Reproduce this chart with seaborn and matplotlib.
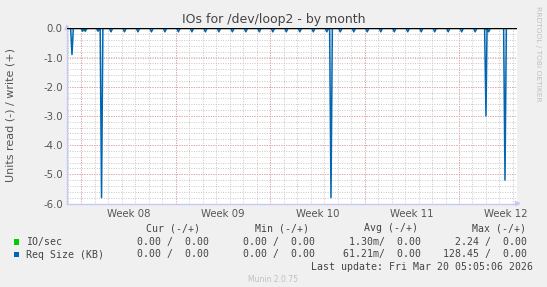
import numpy as np
import pandas as pd
import matplotlib
matplotlib.use("Agg")
import matplotlib.pyplot as plt
from matplotlib.patches import Rectangle
import seaborn as sns

# ---------------- data (days since Monday of Week 08) ----------------
week_labels = ["Week 08", "Week 09", "Week 10", "Week 11", "Week 12"]
week_starts = [0, 7, 14, 21, 28]

# large read spikes in "Req Size (KB)" (negative = read)
req_spike_days = [-0.69, 1.50, 18.51, 30.00, 31.41]
req_spike_vals = [-0.90, -5.80, -5.80, -3.00, -5.20]

# small recurring read dips in "Req Size (KB)"
req_dip_days = [0.10, 0.30, 1.24,
                2.2, 3.2, 4.2, 5.2, 6.2, 7.2, 8.2, 9.2, 10.2, 11.2, 12.2,
                13.2, 14.2, 15.2, 16.2, 17.2, 18.2, 19.2, 20.2, 21.2, 22.2,
                23.2, 24.2, 25.2, 26.2, 27.2, 28.2, 29.2, 30.2]
req_dip_vals = [-0.10, -0.10, -0.10,
                -0.12, -0.12, -0.12, -0.12, -0.12, -0.12, -0.12, -0.12, -0.12,
                -0.12, -0.12, -0.12, -0.12, -0.12, -0.12, -0.12, -0.12, -0.12,
                -0.12, -0.12, -0.12, -0.12, -0.12, -0.12, -0.12, -0.12, -0.12,
                -0.12, -0.12]

# IO/sec read dips
io_dip_days = [0.20, 30.00]
io_dip_vals = [-0.08, -0.05]

x_start, x_end = -1.06, 32.30

legend_header = ["Cur (-/+)", "Min (-/+)", "Avg (-/+)", "Max (-/+)"]
io_stats = ["0.00 /  0.00", "0.00 /  0.00", "1.30m/  0.00", "2.24 /  0.00"]
req_stats = ["0.00 /  0.00", "0.00 /  0.00", "61.21m/  0.00", "128.45 /  0.00"]
last_update = "Last update: Fri Mar 20 05:05:06 2026"

BLUE = "#0066b3"
GREEN = "#00cc00"


def build_series(ev_days, ev_vals, ev_half):
    xs, ys = [x_start, x_end], [0.0, 0.0]
    for d, v, h in zip(ev_days, ev_vals, ev_half):
        xs += [d - h, d, d + h]
        ys += [0.0, v, 0.0]
    order = np.argsort(xs, kind="stable")
    return np.asarray(xs)[order], np.asarray(ys)[order]


req_x, req_y = build_series(req_spike_days + req_dip_days,
                            req_spike_vals + req_dip_vals,
                            [0.1] * len(req_spike_days) + [0.12] * len(req_dip_days))
io_x, io_y = build_series(io_dip_days, io_dip_vals, [0.12] * len(io_dip_days))

df = pd.concat([
    pd.DataFrame({"day": io_x, "value": io_y, "series": "IO/sec"}),
    pd.DataFrame({"day": req_x, "value": req_y, "series": "Req Size (KB)"}),
])

# ---------------- figure ----------------
sns.set_theme(style="white")
plt.rcParams["font.family"] = ["DejaVu Sans"]

W, H = 547, 287
fig = plt.figure(figsize=(W / 100, H / 100), dpi=100, facecolor="#f0f0f0")


def fx(px):
    return px / W


def fy(py):
    return 1 - py / H


left, right, top, bottom = 67, 517, 28.3, 203.5
ax = fig.add_axes([fx(left), fy(bottom), fx(right) - fx(left), fy(top) - fy(bottom)])
ax.set_facecolor("white")

# grid
minor_grid = "#c8c8c8"
major_grid = "#e89c9c"
for d in range(-1, 33):
    ax.axvline(d, color=minor_grid, lw=0.7, ls=(0, (1, 1.5)), zorder=0)
for d in week_starts:
    ax.axvline(d, color=major_grid, lw=0.7, ls=(0, (1, 1.5)), zorder=0.5)
for yv in np.arange(-6.0, 0.01, 0.2):
    ax.axhline(yv, color=minor_grid, lw=0.7, ls=(0, (1, 1.5)), zorder=0)
for yv in range(-6, 1):
    ax.axhline(yv, color=major_grid, lw=0.7, ls=(0, (1, 1.5)), zorder=0.5)

sns.lineplot(data=df, x="day", y="value", hue="series",
             palette={"IO/sec": GREEN, "Req Size (KB)": BLUE},
             estimator=None, sort=False, lw=1.1, legend=False, ax=ax)
ax.axhline(0, color="black", lw=1.0, zorder=5)

ax.set_xlim(x_start, x_end)
ax.set_ylim(-6.0, 0.0)
ax.set_xlabel("")
ax.set_ylabel("")

ax.set_xticks([w + 3.5 for w in week_starts])
ax.set_xticklabels(week_labels)
ax.set_yticks(list(range(0, -7, -1)))
ax.set_yticklabels(["0.0", "-1.0", "-2.0", "-3.0", "-4.0", "-5.0", "-6.0"])
ax.tick_params(axis="both", length=0, labelsize=7.3, colors="#555555", pad=3)
ax.tick_params(axis="x", pad=4)

for s in ["top", "right"]:
    ax.spines[s].set_visible(False)
for s in ["left", "bottom"]:
    ax.spines[s].set_color("#c8c8f0")
    ax.spines[s].set_linewidth(1.0)

# axis arrows
ax.annotate("", xy=(0, 1.04), xytext=(0, 0.98), xycoords="axes fraction",
            arrowprops=dict(arrowstyle="-|>", color="#c8c8f0", lw=1, mutation_scale=7),
            annotation_clip=False)
ax.annotate("", xy=(1.015, 0), xytext=(0.995, 0), xycoords="axes fraction",
            arrowprops=dict(arrowstyle="-|>", color="#c8c8f0", lw=1, mutation_scale=7),
            annotation_clip=False)

# texts
fig.text(fx(273.5), fy(19), "IOs for /dev/loop2 - by month", ha="center", va="center",
         fontsize=9, color="#444444")
fig.text(fx(11), fy(115.5), "Units read (-) / write (+)", rotation=90, ha="center",
         va="center", fontsize=8, color="#555555")
fig.text(fx(538), fy(6), "RRDTOOL / TOBI OETIKER", rotation=270, ha="center", va="top",
         fontsize=5.4, color="#c0c0c0")

mono = dict(family="DejaVu Sans Mono", fontsize=7.1, color="#444444", va="center")
header_right = [200.5, 308.7, 417.5, 526.0]
value_right = [209.0, 315.0, 421.0, 526.7]
for txt, xr in zip(legend_header, header_right):
    fig.text(fx(xr), fy(228.4), txt, ha="right", **mono)
for row_y, name, stats, col in [(242, "IO/sec", io_stats, GREEN),
                                 (254.5, "Req Size (KB)", req_stats, BLUE)]:
    fig.patches.append(Rectangle((fx(14), fy(row_y + 2.6)), 5.2 / W, 5.2 / H,
                                 transform=fig.transFigure, facecolor=col,
                                 edgecolor="none"))
    fig.text(fx(26), fy(row_y), name, ha="left", **mono)
    for txt, xr in zip(stats, value_right):
        fig.text(fx(xr), fy(row_y), txt, ha="right", **mono)
fig.text(fx(532.6), fy(266.7), last_update, ha="right", **mono)
fig.text(fx(272.5), fy(280), "Munin 2.0.75", ha="center", va="center",
         fontsize=5.5, color="#c0c0c0")

fig.savefig("out.png", dpi=100, facecolor=fig.get_facecolor())
